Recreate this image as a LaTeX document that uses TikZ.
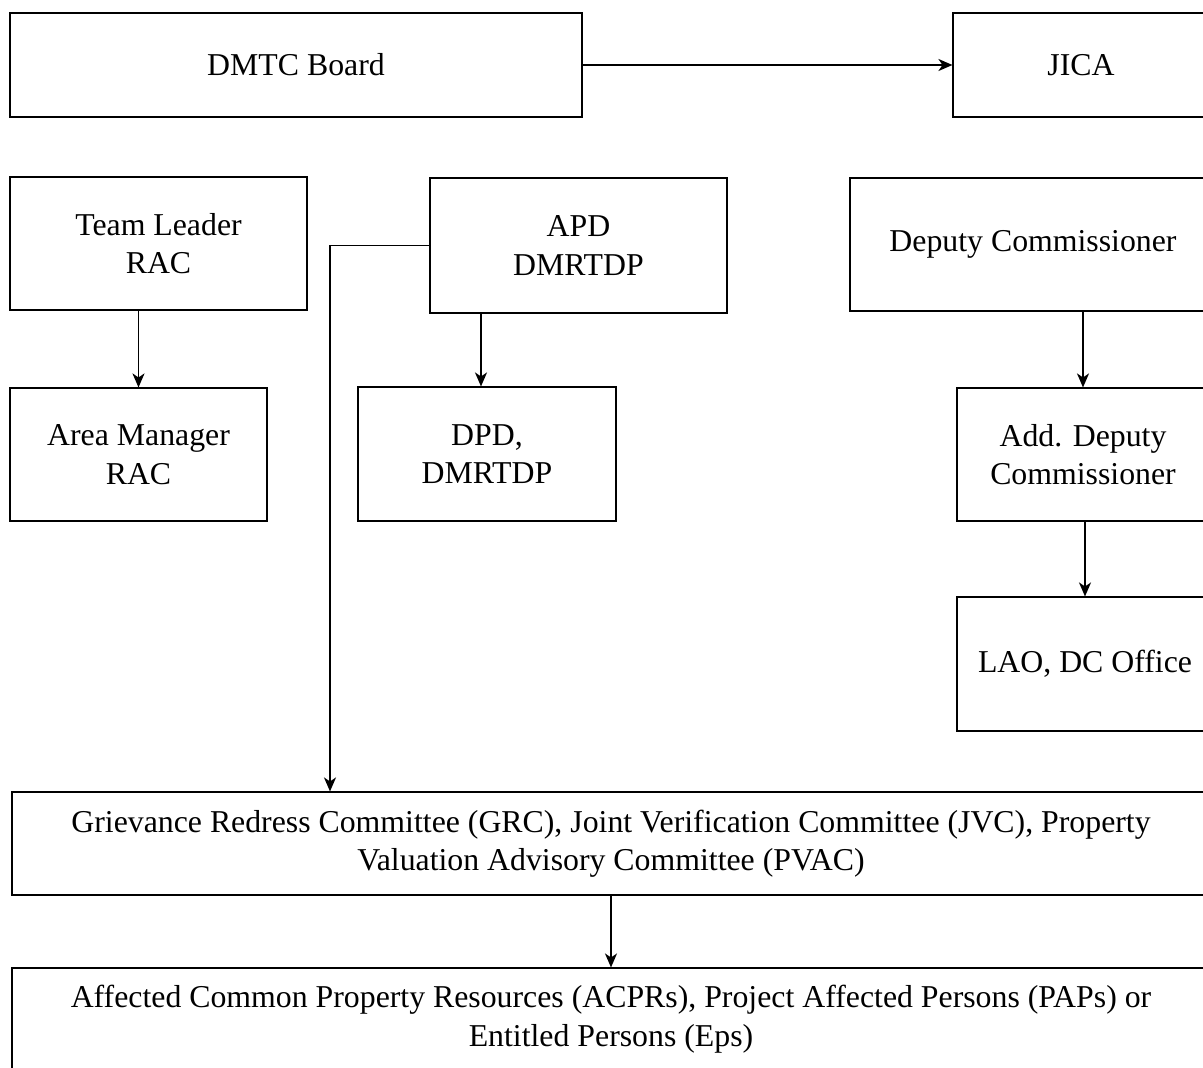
\documentclass[tikz,border=0pt]{standalone}
\usepackage{fontspec}
\setmainfont{Liberation Serif}
\usetikzlibrary{arrows.meta}
\begin{document}
\begin{tikzpicture}[x=1pt,y=-1pt,
  box/.style={draw, line width=1.1pt, align=center, inner sep=0pt,
    font=\fontsize{31.8}{38.5}\selectfont},
  arr/.style={-{Stealth[length=14pt,width=12pt,inset=4pt]}, line width=1.5pt}]
\useasboundingbox (0,0) rectangle (1203,1068);
\clip (0,0) rectangle (1203,1068);
\node[box, minimum width=572pt, minimum height=104pt] (dmtc) at (296,65) {DMTC Board};
\node[box, minimum width=256pt, minimum height=104pt] (jica) at (1081,65) {JICA};
\node[box, minimum width=297pt, minimum height=133pt] (tl) at (158.5,243.5) {Team Leader\\RAC};
\node[box, minimum width=297pt, minimum height=135pt] (apd) at (578.5,245.5) {APD\\DMRTDP};
\node[box, minimum width=366pt, minimum height=133pt] (dc) at (1033,244.5) {Deputy Commissioner};
\node[box, minimum width=257pt, minimum height=133pt] (am) at (138.5,454.5) {Area Manager\\RAC};
\node[box, minimum width=258pt, minimum height=134pt] (dpd) at (487,454) {DPD,\\DMRTDP};
\node[box, minimum width=252pt, minimum height=133pt] (adc) at (1083,454.5) {Add. Deputy\\Commissioner};
\node[box, minimum width=256pt, minimum height=134pt] (lao) at (1085,664) {LAO, DC Office};
\node[box, minimum width=1198pt, minimum height=103pt] (grc) at (611,843.5) {Grievance Redress Committee (GRC), Joint Verification Committee (JVC), Property\\Valuation Advisory Committee (PVAC)};
\node[box, minimum width=1198pt, minimum height=102pt] (acp) at (611,1019) {Affected Common Property Resources (ACPRs), Project Affected Persons (PAPs) or\\Entitled Persons (Eps)};
\draw[arr] (dmtc.east) -- (jica.west);
\draw[arr] (tl.south -| am.north) -- (am.north);
\draw[arr] ([xshift=-6pt]dpd.north |- apd.south) -- ([xshift=-6pt]dpd.north);
\draw[arr] (adc.north |- dc.south) -- (adc.north);
\draw[arr] (lao.north |- adc.south) -- (lao.north);
\draw[arr] (apd.west) -| ([xshift=-281pt]grc.north);
\draw[arr] (grc.south) -- (acp.north);
\end{tikzpicture}
\end{document}
